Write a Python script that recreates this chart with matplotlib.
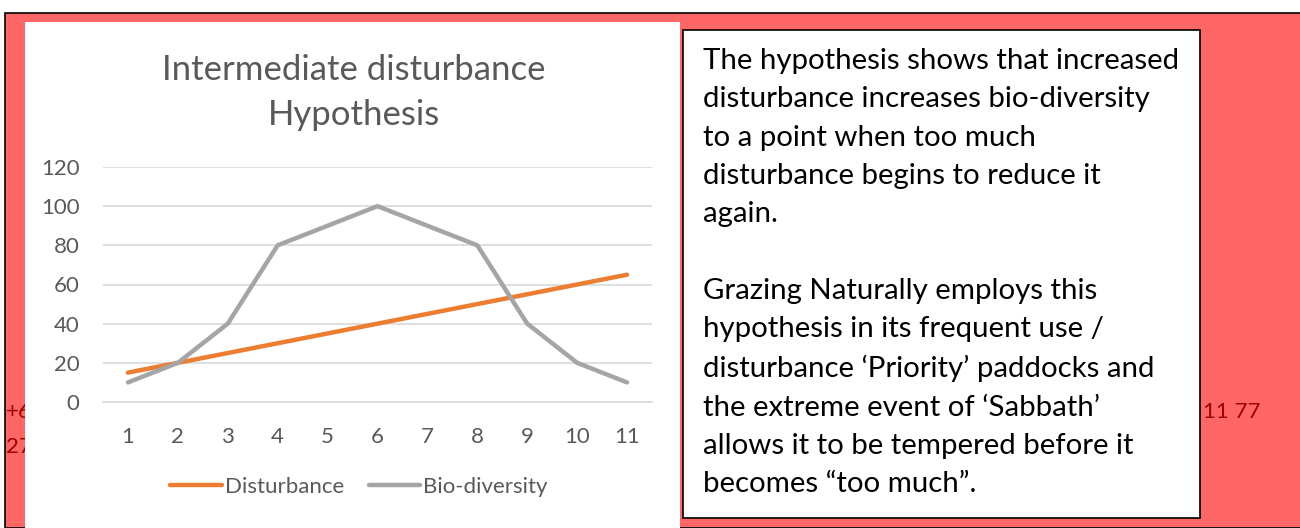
import matplotlib.pyplot as plt
from matplotlib.patches import Rectangle

W, H = 1300, 528

x_labels = ['1', '2', '3', '4', '5', '6', '7', '8', '9', '10', '11']
disturbance = [15, 20, 25, 30, 35, 40, 45, 50, 55, 60, 65]
biodiversity = [10, 20, 40, 80, 90, 100, 90, 80, 40, 20, 10]
y_ticks = [0, 20, 40, 60, 80, 100, 120]

note_lines = [
    'The hypothesis shows that increased',
    'disturbance increases bio-diversity',
    'to a point when too much',
    'disturbance begins to reduce it',
    'again.',
    '',
    'Grazing Naturally employs this',
    'hypothesis in its frequent use /',
    'disturbance \u2018Priority\u2019 paddocks and',
    'the extreme event of \u2018Sabbath\u2019',
    'allows it to be tempered before it',
    'becomes \u201ctoo much\u201d.',
]

plt.rcParams['font.family'] = ['Lato', 'DejaVu Sans']


def fx(px):
    return px / W


def fy(py):
    return 1 - py / H


fig = plt.figure(figsize=(13, 5.28), dpi=100)

# red page background with black edge
fig.patches.append(Rectangle((fx(5), 0), fx(1300), fy(13), transform=fig.transFigure,
                             facecolor='#FF6666', edgecolor='black', linewidth=1.2, zorder=0))

# phone number fragments behind the panels
fig.text(fx(6), fy(412), '+61', color='#A50000', fontsize=16, va='center', zorder=1)
fig.text(fx(6), fy(447), '27', color='#A50000', fontsize=16, va='center', zorder=1)
fig.text(fx(1203), fy(412), '11 77', color='#A50000', fontsize=16, va='center', zorder=1)

# white chart panel
fig.patches.append(Rectangle((fx(25), 0), fx(655), fy(22), transform=fig.transFigure,
                             facecolor='white', edgecolor='none', zorder=2))

# text box
fig.patches.append(Rectangle((fx(683), fy(518)), fx(517), fy(30) - fy(518), transform=fig.transFigure,
                             facecolor='white', edgecolor='black', linewidth=1.2, zorder=2))
fig.text(fx(703), fy(48), '\n'.join(note_lines), fontsize=21.2, color='black',
         va='top', ha='left', linespacing=1.585, zorder=3)

# chart
ax = fig.add_axes([fx(103), fy(402), fx(549), fy(167) - fy(402)])
ax.set_zorder(3)
ax.patch.set_alpha(0)
xs = list(range(1, len(x_labels) + 1))
ax.plot(xs, disturbance, color='#ED7D31', linewidth=3.2, label='Disturbance', solid_capstyle='round')
ax.plot(xs, biodiversity, color='#A5A5A5', linewidth=3.2, label='Bio-diversity', solid_capstyle='round')
ax.set_xlim(0.5, len(x_labels) + 0.5)
ax.set_ylim(0, 120)
ax.set_xticks(xs)
ax.set_xticklabels(x_labels)
ax.set_yticks(y_ticks)
ax.grid(axis='y', color='#D9D9D9', linewidth=1.2)
ax.set_axisbelow(True)
for s in ['top', 'right', 'left']:
    ax.spines[s].set_visible(False)
ax.spines['bottom'].set_color('#D9D9D9')
ax.spines['bottom'].set_linewidth(1.2)
ax.tick_params(length=0, labelsize=16, labelcolor='#595959')
ax.tick_params(axis='x', pad=18)
ax.tick_params(axis='y', pad=17)

fig.text(fx(354), fy(92), 'Intermediate disturbance\nHypothesis', fontsize=25, color='#595959',
         ha='center', va='center', linespacing=1.5, zorder=4)

leg = ax.legend(loc='center', bbox_to_anchor=(fx(359), fy(487)), bbox_transform=fig.transFigure,
                ncol=2, frameon=False, fontsize=16, handlelength=2.3, handletextpad=0.15,
                columnspacing=1.1)
for t in leg.get_texts():
    t.set_color('#595959')

fig.savefig('out.png', dpi=100, facecolor='white')
